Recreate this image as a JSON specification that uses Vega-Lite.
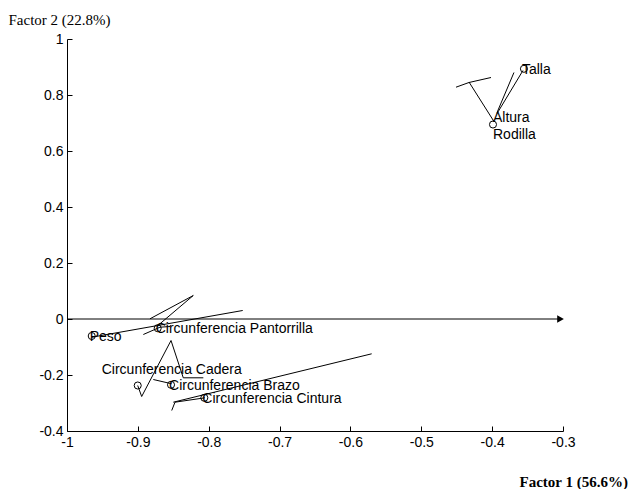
{
  "$schema": "https://vega.github.io/schema/vega-lite/v6.json",
  "width": 496,
  "height": 392,
  "autosize": "none",
  "padding": {"left": 67, "top": 39, "right": 71, "bottom": 58},
  "background": "white",
  "config": {
    "view": {"stroke": null},
    "axis": {"grid": false, "domainColor": "black", "tickColor": "black", "labelColor": "black", "titleColor": "black", "domainWidth": 1, "tickWidth": 1}
  },
  "datasets": {
    "points": [
      {"name": "Talla", "x": -0.3551, "y": 0.8936},
      {"name": "Altura", "x": -0.3960, "y": 0.7232},
      {"name": "Rodilla", "x": -0.3988, "y": 0.6946},
      {"name": "Peso", "x": -0.9651, "y": -0.0607},
      {"name": "Circunferencia Pantorrilla", "x": -0.8720, "y": -0.0329},
      {"name": "Circunferencia Cadera", "x": -0.9002, "y": -0.2375},
      {"name": "Circunferencia Brazo", "x": -0.8532, "y": -0.2350},
      {"name": "Circunferencia Cintura", "x": -0.8062, "y": -0.2814}
    ],
    "segs": [
      {"seg": "S1", "ord": 1, "x": -0.3565, "y": 0.8875},
      {"seg": "S1", "ord": 2, "x": -0.3931, "y": 0.7339},
      {"seg": "S2", "ord": 1, "x": -0.3692, "y": 0.8804},
      {"seg": "S2", "ord": 2, "x": -0.3931, "y": 0.7375},
      {"seg": "S3", "ord": 1, "x": -0.4327, "y": 0.8464},
      {"seg": "S3", "ord": 2, "x": -0.3974, "y": 0.7054},
      {"seg": "S4", "ord": 1, "x": -0.4510, "y": 0.8279},
      {"seg": "S4", "ord": 2, "x": -0.4327, "y": 0.8446},
      {"seg": "S4", "ord": 3, "x": -0.4016, "y": 0.8625},
      {"seg": "L1", "ord": 1, "x": -0.9651, "y": -0.0650},
      {"seg": "L1", "ord": 2, "x": -0.7520, "y": 0.0304},
      {"seg": "L2", "ord": 1, "x": -0.8829, "y": 0.0007},
      {"seg": "L2", "ord": 2, "x": -0.8218, "y": 0.0839},
      {"seg": "L2", "ord": 3, "x": -0.8734, "y": -0.0268},
      {"seg": "L3", "ord": 1, "x": -0.8923, "y": -0.0554},
      {"seg": "L3", "ord": 2, "x": -0.8688, "y": -0.0293},
      {"seg": "L3", "ord": 3, "x": -0.8546, "y": -0.0268},
      {"seg": "L4", "ord": 1, "x": -0.9002, "y": -0.2375},
      {"seg": "L4", "ord": 2, "x": -0.8946, "y": -0.2768},
      {"seg": "L4", "ord": 3, "x": -0.8532, "y": -0.0768},
      {"seg": "L4", "ord": 4, "x": -0.8359, "y": -0.2100},
      {"seg": "L4", "ord": 5, "x": -0.8076, "y": -0.2100},
      {"seg": "L5", "ord": 1, "x": -0.8782, "y": -0.2161},
      {"seg": "L5", "ord": 2, "x": -0.8522, "y": -0.2314},
      {"seg": "L6", "ord": 1, "x": -0.8500, "y": -0.2971},
      {"seg": "L6", "ord": 2, "x": -0.5700, "y": -0.1243},
      {"seg": "L7", "ord": 1, "x": -0.8052, "y": -0.2814},
      {"seg": "L7", "ord": 2, "x": -0.8476, "y": -0.2971},
      {"seg": "L7", "ord": 3, "x": -0.8522, "y": -0.3268}
    ],
    "arrow": [{"x": -1, "x2": -0.3055, "xt": -0.3035, "y": 0}]
  },
  "encoding": {
    "x": {
      "field": "x", "type": "quantitative",
      "scale": {"domain": [-1, -0.3], "nice": false, "zero": false},
      "axis": {
        "values": [-1, -0.9, -0.8, -0.7, -0.6, -0.5, -0.4, -0.3],
        "labelExpr": "'' + datum.value",
        "tickSize": -5, "labelPadding": 9,
        "labelFont": "Liberation Sans", "labelFontSize": 14, "labelFlush": false, "labelOverlap": false, "labelBound": false,
        "title": "Factor 1 (56.6%)", "titleFont": "Liberation Serif", "titleFontSize": 15, "titleFontWeight": "bold",
        "titleX": 452, "titleY": 50, "titleAlign": "left", "titleBaseline": "middle", "titleAnchor": null
      }
    },
    "y": {
      "field": "y", "type": "quantitative",
      "scale": {"domain": [-0.4, 1], "nice": false, "zero": false},
      "axis": {
        "values": [-0.4, -0.2, 0, 0.2, 0.4, 0.6, 0.8, 1],
        "labelExpr": "'' + datum.value",
        "tickSize": -5, "labelPadding": 9,
        "labelFont": "Liberation Sans", "labelFontSize": 14, "labelFlush": false, "labelOverlap": false, "labelBound": false,
        "title": "Factor 2 (22.8%)", "titleFont": "Liberation Serif", "titleFontSize": 15, "titleFontWeight": "normal",
        "titleAngle": 0, "titleX": -59, "titleY": -20, "titleAlign": "left", "titleBaseline": "middle", "titleAnchor": null
      }
    }
  },
  "layer": [
    {
      "data": {"name": "segs"},
      "mark": {"type": "line", "color": "black", "strokeWidth": 1},
      "encoding": {"detail": {"field": "seg"}, "order": {"field": "ord", "type": "quantitative"}}
    },
    {
      "data": {"name": "arrow"},
      "mark": {"type": "rule", "color": "black", "strokeWidth": 1},
      "encoding": {"x2": {"field": "x2"}}
    },
    {
      "data": {"name": "arrow"},
      "mark": {"type": "point", "shape": "triangle-right", "filled": true, "color": "black", "size": 60, "opacity": 1},
      "encoding": {"x": {"field": "xt", "type": "quantitative"}}
    },
    {
      "data": {"name": "points"},
      "transform": [{"filter": "datum.name !== 'Altura'"}],
      "mark": {"type": "point", "shape": "circle", "filled": false, "color": "black", "size": 50, "strokeWidth": 1, "opacity": 1}
    },
    {
      "data": {"name": "points"},
      "transform": [{"filter": "datum.name !== 'Rodilla' && datum.name !== 'Circunferencia Cadera'"}],
      "mark": {"type": "text", "align": "left", "baseline": "middle", "font": "Liberation Sans", "fontSize": 14, "color": "black", "dx": -2, "dy": 1},
      "encoding": {"text": {"field": "name"}}
    },
    {
      "data": {"name": "points"},
      "transform": [{"filter": "datum.name === 'Rodilla'"}],
      "mark": {"type": "text", "align": "left", "baseline": "middle", "font": "Liberation Sans", "fontSize": 14, "color": "black", "dx": 0, "dy": 10},
      "encoding": {"text": {"field": "name"}}
    },
    {
      "data": {"name": "points"},
      "transform": [{"filter": "datum.name === 'Circunferencia Cadera'"}],
      "mark": {"type": "text", "align": "left", "baseline": "middle", "font": "Liberation Sans", "fontSize": 14, "color": "black", "dx": -36, "dy": -16},
      "encoding": {"text": {"field": "name"}}
    }
  ]
}
